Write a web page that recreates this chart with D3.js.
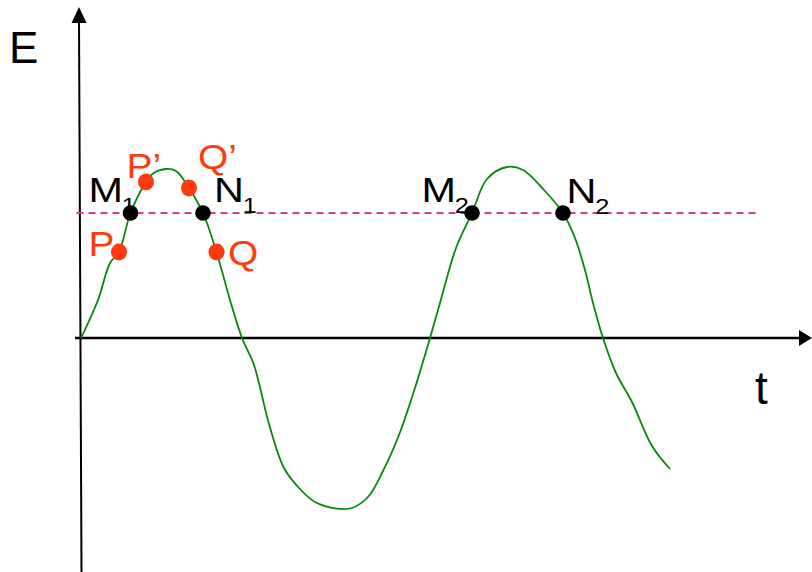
<!DOCTYPE html>
<html>
<head>
<meta charset="utf-8">
<script src="https://cdn.jsdelivr.net/npm/d3@7"></script>
<style>
  html, body { margin: 0; padding: 0; background: #fff; }
  svg { display: block; }
  text { font-family: "Liberation Sans", Arial, sans-serif; }
</style>
</head>
<body>
<div id="chart"></div>
<script>
// ---- data ----
const curveT = [0, 0.17, 0.29, 0.38, 0.495, 0.65, 0.72, 0.85, 0.95, 1.08, 1.22, 1.355, 1.49, 1.61,
  1.73, 1.88, 2.03, 2.18, 2.34, 2.56, 2.71, 2.87, 3.02, 3.18, 3.33, 3.49, 3.59, 3.75, 3.91,
  4.06, 4.26, 4.42, 4.63, 4.82, 4.94, 5.04, 5.12, 5.22, 5.35, 5.51, 5.71, 5.89];
const curveE = [0, 0.38, 0.75, 0.86, 1.25, 1.56, 1.645, 1.69, 1.67, 1.50, 1.25, 0.86, 0.38, 0,
  -0.27, -0.86, -1.30, -1.50, -1.64, -1.706, -1.70, -1.59, -1.33, -0.97, -0.53, 0, 0.35, 0.90, 1.25,
  1.59, 1.71, 1.68, 1.48, 1.25, 1.00, 0.68, 0.35, 0, -0.35, -0.64, -1.08, -1.31];

const level = 1.25;
const levelT = [-0.045, 6.76];

const blackNames = ["M", "N", "M", "N"];
const blackSubs = ["1", "1", "2", "2"];
const blackT = [0.495, 1.22, 3.91, 4.82];
const blackE = [1.25, 1.25, 1.25, 1.25];

const redNames = ["P", "P’", "Q’", "Q"];
const redT = [0.38, 0.65, 1.08, 1.355];
const redE = [0.86, 1.56, 1.50, 0.86];

const axisLabelX = "t";
const axisLabelY = "E";

// ---- layout ----
const W = 812, H = 572;
const x = d3.scaleLinear().domain([-0.81, 7.31]).range([0, W]);
const y = d3.scaleLinear().domain([-2.34, 3.38]).range([H, 0]);

const blackOffsets = [[-42, -11.5], [11, -11.5], [-50.5, -11.5], [3.6, -10]];
const redOffsets = [[-30.5, 4], [-19.5, -4.5], [9, -19.5], [11.5, 12.5]];

const svg = d3.select("#chart").append("svg").attr("width", W).attr("height", H);

// axes
const x0 = x(0), y0 = y(0);
svg.append("line").attr("x1", x0 - 2).attr("y1", 20).attr("x2", x0 + 0.5).attr("y2", H)
  .attr("stroke", "#000").attr("stroke-width", 2);
svg.append("path").attr("d", `M${x0 - 2},7 L${x0 - 9.5},23 L${x0 + 5.5},23 Z`).attr("fill", "#000");
svg.append("line").attr("x1", x0 - 6).attr("y1", y0).attr("x2", 802).attr("y2", y0)
  .attr("stroke", "#000").attr("stroke-width", 2.5);
svg.append("path").attr("d", `M812,${y0} L799,${y0 - 8} L799,${y0 + 8} Z`).attr("fill", "#000");

svg.append("text").attr("x", 9).attr("y", 62.5).attr("font-size", 44).attr("fill", "#000").text(axisLabelY);
svg.append("text").attr("x", 755).attr("y", 404).attr("font-size", 46).attr("fill", "#000").text(axisLabelX);

// dashed level
svg.append("line").attr("x1", x(levelT[0])).attr("x2", x(levelT[1]))
  .attr("y1", y(level)).attr("y2", y(level))
  .attr("stroke", "#cc3d9e").attr("stroke-width", 1.8).attr("stroke-dasharray", "7,5");

// curve
const pts = curveT.map((t, i) => [t, curveE[i]]);
const line = d3.line().x(d => x(d[0])).y(d => y(d[1])).curve(d3.curveCatmullRom.alpha(0.5));
svg.append("path").attr("d", line(pts)).attr("fill", "none")
  .attr("stroke", "#0a870a").attr("stroke-width", 1.8);

// black point labels (drawn under the dots)
blackT.forEach((t, i) => {
  const tx = svg.append("text")
    .attr("transform", `translate(${x(t) + blackOffsets[i][0]},${y(blackE[i]) + blackOffsets[i][1]}) scale(1.15,1)`)
    .attr("font-size", 36).attr("fill", "#000");
  tx.append("tspan").text(blackNames[i]);
  tx.append("tspan").attr("font-size", 22).attr("dx", -1).attr("dy", 11).text(blackSubs[i]);
});
blackT.forEach((t, i) => {
  svg.append("circle").attr("cx", x(t)).attr("cy", y(blackE[i])).attr("r", 7.8).attr("fill", "#000");
});

// red points
redT.forEach((t, i) => {
  svg.append("ellipse").attr("cx", x(t)).attr("cy", y(redE[i])).attr("rx", 8).attr("ry", 8.5).attr("fill", "#ff3a0e");
  svg.append("text")
    .attr("transform", `translate(${x(t) + redOffsets[i][0]},${y(redE[i]) + redOffsets[i][1]}) scale(1.08,1)`)
    .attr("font-size", 36).attr("fill", "#ff3a0e").text(redNames[i]);
});
</script>
</body>
</html>
